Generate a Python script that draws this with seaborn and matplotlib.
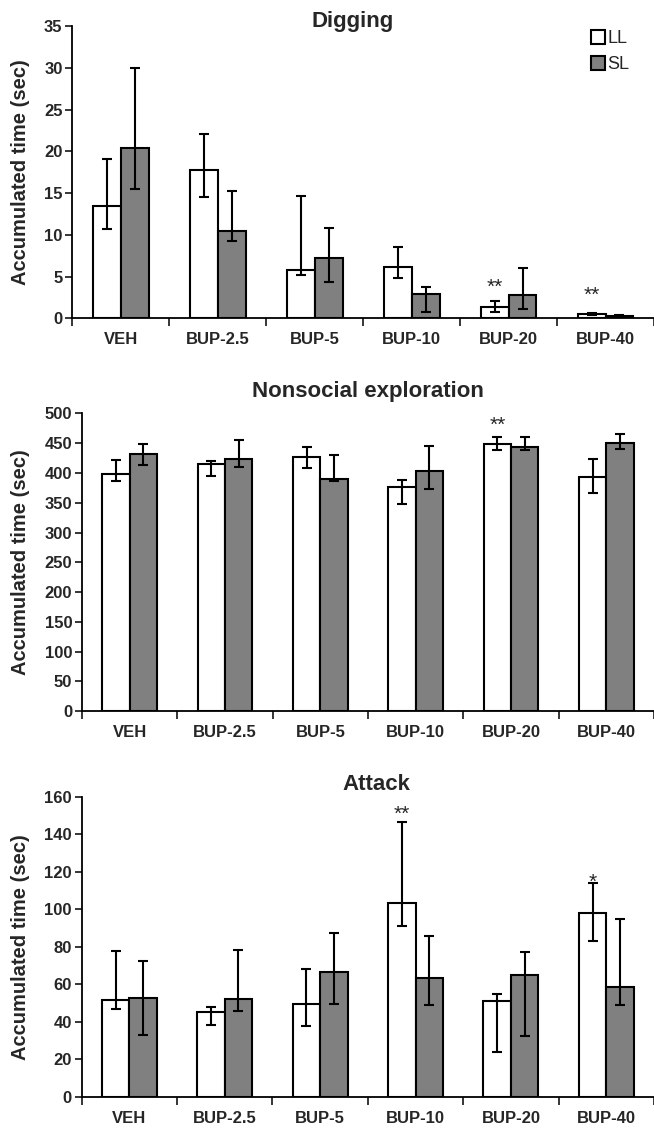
import numpy as np
import pandas as pd
import matplotlib
matplotlib.use("Agg")
import matplotlib.pyplot as plt
from matplotlib.patches import Patch
import seaborn as sns

# grupos de tratamiento
conds = ["VEH", "BUP-2.5", "BUP-5", "BUP-10", "BUP-20", "BUP-40"]
lineas = ["LL", "SL"]

# Digging (valor, limite inferior, limite superior)
dig_ll = [13.5, 17.8, 5.8, 6.2, 1.3, 0.5]
dig_ll_lo = [10.7, 14.5, 5.2, 4.8, 0.7, 0.4]
dig_ll_hi = [19.1, 22.1, 14.6, 8.6, 2.1, 0.6]
dig_sl = [20.4, 10.5, 7.2, 2.9, 2.8, 0.3]
dig_sl_lo = [15.5, 9.2, 4.4, 0.7, 1.1, 0.2]
dig_sl_hi = [30.0, 15.2, 10.8, 3.7, 6.0, 0.35]

# Nonsocial exploration
nse_ll = [398, 415, 426, 377, 449, 394]
nse_ll_lo = [387, 395, 408, 348, 438, 367]
nse_ll_hi = [421, 420, 444, 388, 460, 423]
nse_sl = [432, 423, 390, 404, 443, 450]
nse_sl_lo = [414, 410, 387, 373, 438, 440]
nse_sl_hi = [448, 456, 431, 445, 460, 465]

# Attack
att_ll = [51.4, 45.4, 49.5, 103.6, 50.9, 98.2]
att_ll_lo = [46.8, 38.2, 37.9, 90.9, 23.6, 83.0]
att_ll_hi = [77.5, 48.0, 68.2, 146.4, 54.8, 113.9]
att_sl = [52.7, 52.1, 66.4, 63.4, 65.0, 58.4]
att_sl_lo = [32.7, 45.9, 49.5, 49.1, 32.5, 48.8]
att_sl_hi = [72.5, 78.5, 87.5, 85.7, 77.3, 95.0]

# asteriscos: (indice de grupo, texto, altura)
dig_stars = [(4, "**", 4.35), (5, "**", 3.4)]
nse_stars = [(4, "**", 490)]
att_stars = [(3, "**", 153.6), (5, "*", 117.5)]

sns.set_style("ticks")
plt.rcParams["font.family"] = ["Liberation Sans", "DejaVu Sans"]

fig = plt.figure(figsize=(6.54, 11.32), dpi=100)

paneles = [
    ("Digging", dig_ll, dig_ll_lo, dig_ll_hi, dig_sl, dig_sl_lo, dig_sl_hi, dig_stars,
     [0.1106, 0.7188, 0.8894, 0.2582], 5.424, 35, 5, (353, 21)),
    ("Nonsocial exploration", nse_ll, nse_ll_lo, nse_ll_hi, nse_sl, nse_sl_lo, nse_sl_hi, nse_stars,
     [0.1254, 0.3717, 0.8746, 0.2631], 5.409, 500, 50, (368, 392)),
    ("Attack", att_ll, att_ll_lo, att_ll_hi, att_sl, att_sl_lo, att_sl_hi, att_stars,
     [0.1249, 0.0312, 0.8751, 0.2648], 5.418, 160, 20, (376, 785)),
]

paleta = {"LL": "white", "SL": "#808080"}

for (titulo, ll, ll_lo, ll_hi, sl, sl_lo, sl_hi, stars, pos, xmax, ymax, ystep, tpos) in paneles:
    ax = fig.add_axes(pos)
    df = pd.DataFrame({
        "cond": conds * 2,
        "linea": ["LL"] * 6 + ["SL"] * 6,
        "valor": ll + sl,
        "lo": ll_lo + sl_lo,
        "hi": ll_hi + sl_hi,
    })
    sns.barplot(data=df, x="cond", y="valor", hue="linea", order=conds, hue_order=lineas,
                palette=paleta, saturation=1, width=0.575, errorbar=None,
                edgecolor="black", linewidth=1.5, legend=False, ax=ax)

    # barras de error asimetricas sobre el centro de cada barra
    for cont, lin in zip(ax.containers, lineas):
        sub = df[df["linea"] == lin]
        xs = [b.get_x() + b.get_width() / 2 for b in cont]
        vals = sub["valor"].values
        ax.errorbar(xs, vals, yerr=[vals - sub["lo"].values, sub["hi"].values - vals],
                    fmt="none", ecolor="black", elinewidth=1.5, capsize=3.8, capthick=1.5)
        if lin == "LL":
            for i, s, yy in stars:
                ax.annotate(s, (xs[i], yy), xytext=(0, -4), textcoords="offset points",
                            ha="center", va="center", fontsize=15)

    ax.set_xlim(-0.5, xmax)
    ax.set_ylim(0, ymax)
    ax.set_yticks(np.arange(0, ymax + 1, ystep))
    ax.set_xticks(np.arange(-0.5, 6, 1), minor=True)
    ax.tick_params(axis="x", which="major", length=0, pad=10)
    ax.tick_params(axis="x", which="minor", length=6, width=1.3, direction="out")
    ax.tick_params(axis="y", length=5, width=1.3, direction="out", pad=2)
    for lab in ax.get_xticklabels() + ax.get_yticklabels():
        lab.set_fontsize(12)
        lab.set_fontweight("bold")
    ax.set_xlabel("")
    ax.set_ylabel("")
    sns.despine(ax=ax)
    for sp in ["left", "bottom"]:
        ax.spines[sp].set_linewidth(1.3)
        ax.spines[sp].set_color("black")

    fig.text(tpos[0] / 654, 1 - tpos[1] / 1132, titulo, ha="center", va="center",
             fontsize=16, fontweight="bold")
    yc = pos[1] + pos[3] / 2
    fig.text(21 / 654, yc, "Accumulated time (sec)", rotation=90, ha="center", va="center",
             fontsize=14.5, fontweight="bold")

    if titulo == "Digging":
        handles = [Patch(facecolor=paleta[l], edgecolor="black", linewidth=1.5) for l in lineas]
        ax.legend(handles, lineas, loc="upper left", bbox_to_anchor=(591 / 654, 1 - 30 / 1132),
                  bbox_transform=fig.transFigure, frameon=False, fontsize=13,
                  handlelength=0.8, handleheight=0.8, handletextpad=0.1,
                  labelspacing=0.5, borderpad=0, borderaxespad=0)

fig.savefig("out.png", dpi=100)
